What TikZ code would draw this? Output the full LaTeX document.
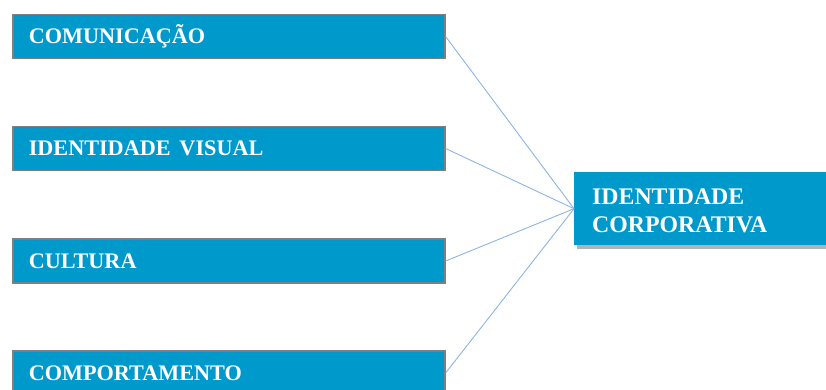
\documentclass[tikz,border=0pt]{standalone}
\usepackage{fontspec}
\setmainfont{Liberation Serif}
\usetikzlibrary{shadows}
\definecolor{boxblue}{RGB}{0,153,204}
\definecolor{boxgray}{RGB}{127,127,127}
\definecolor{linkblue}{RGB}{141,180,226}
\tikzset{
  factor/.style={draw=boxgray, line width=1.6pt, fill=boxblue, anchor=west,
    minimum width=432pt, minimum height=44pt, text width=400pt, inner xsep=16pt,
    align=left, text=white, font=\fontsize{22.2}{26}\selectfont\bfseries},
  result/.style={fill=boxblue, anchor=north west, minimum width=270pt,
    minimum height=73pt, inner sep=0pt,
    drop shadow={shadow xshift=2.5pt, shadow yshift=-3.5pt, opacity=0.6}},
  resultlabel/.style={anchor=west, text width=236pt, inner xsep=18pt,
    align=left, text=white, font=\fontsize{23.8}{28}\selectfont\bfseries},
  link/.style={draw=linkblue, line width=0.9pt}
}
\begin{document}
\begin{tikzpicture}[x=1pt,y=-1pt]
  \useasboundingbox (0,0) rectangle (826,390);
  \node[factor] (com) at (12,36.5) {COMUNICAÇÃO};
  \node[factor] (vis) at (12,148.5) {IDENTIDADE\hspace{0.4em}VISUAL};
  \node[factor] (cul) at (12,261) {CULTURA};
  \node[factor] (cmp) at (12,373) {COMPORTAMENTO};
  \node[result] (idc) at (574,172) {};
  \node[resultlabel] (idct) at ([yshift=-2.5pt]idc.west) {IDENTIDADE\\CORPORATIVA};
  \foreach \n in {com,vis,cul,cmp}
    \draw[link] (\n.east) -- (idc.west);
\end{tikzpicture}
\end{document}
